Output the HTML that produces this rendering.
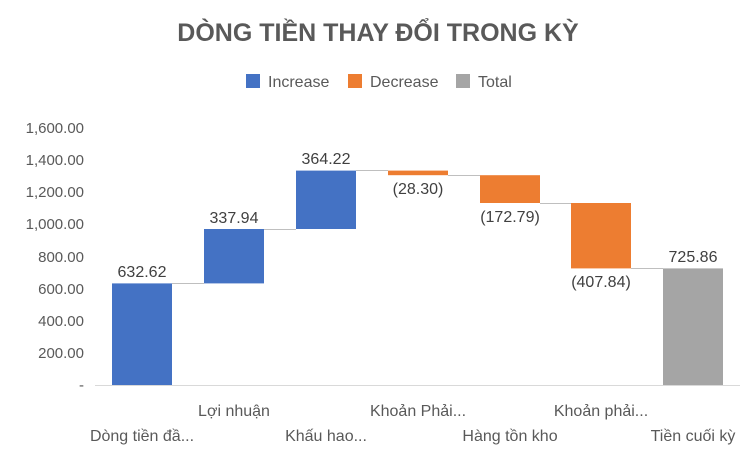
<!DOCTYPE html>
<html><head><meta charset="utf-8"><style>
body{margin:0;background:#fff}
svg{display:block;font-family:"Liberation Sans",Calibri,sans-serif}
</style></head><body>
<svg width="754" height="459" viewBox="0 0 754 459">
<rect width="754" height="459" fill="#fff"/>
<text x="378" y="41" text-anchor="middle" font-size="25" font-weight="bold" fill="#595959">DÒNG TIỀN THAY ĐỔI TRONG KỲ</text>
<rect x="246" y="74" width="14" height="14" fill="#4472C4"/><text x="268" y="87" font-size="16" fill="#595959">Increase</text>
<rect x="348" y="74" width="14" height="14" fill="#ED7D31"/><text x="370" y="87" font-size="16" fill="#595959">Decrease</text>
<rect x="456" y="74" width="14" height="14" fill="#A5A5A5"/><text x="478" y="87" font-size="16" fill="#595959">Total</text>
<g font-size="15" fill="#595959" text-anchor="end">
<text x="84" y="390">-</text><text x="84" y="358">200.00</text><text x="84" y="326">400.00</text><text x="84" y="294">600.00</text><text x="84" y="262">800.00</text><text x="84" y="229">1,000.00</text><text x="84" y="197">1,200.00</text><text x="84" y="165">1,400.00</text><text x="84" y="133">1,600.00</text>
</g>
<line x1="95" y1="385.5" x2="740" y2="385.5" stroke="#d9d9d9" stroke-width="1"/>
<g stroke="#bfbfbf" stroke-width="1">
<line x1="172" y1="283.5" x2="204" y2="283.5"/><line x1="264" y1="229.5" x2="296" y2="229.5"/><line x1="356" y1="170.5" x2="388" y2="170.5"/><line x1="448" y1="175.5" x2="480" y2="175.5"/><line x1="540" y1="203.5" x2="571" y2="203.5"/><line x1="631" y1="268.5" x2="663" y2="268.5"/>
</g>
<rect x="112" y="283.4" width="60" height="101.6" fill="#4472C4"/>
<rect x="204" y="229" width="60" height="54.4" fill="#4472C4"/>
<rect x="296" y="170.6" width="60" height="58.4" fill="#4472C4"/>
<rect x="388" y="170.6" width="60" height="4.6" fill="#ED7D31"/>
<rect x="480" y="175.2" width="60" height="27.8" fill="#ED7D31"/>
<rect x="571" y="203" width="60" height="65.4" fill="#ED7D31"/>
<rect x="663" y="268.4" width="60" height="116.6" fill="#A5A5A5"/>
<g font-size="16" fill="#404040" text-anchor="middle">
<text x="142" y="277">632.62</text><text x="234" y="223">337.94</text><text x="326" y="164">364.22</text>
<text x="418" y="194">(28.30)</text><text x="510" y="222">(172.79)</text><text x="601" y="287">(407.84)</text><text x="693" y="262">725.86</text>
</g>
<g font-size="16" fill="#595959" text-anchor="middle">
<text x="142" y="441">Dòng tiền đầ...</text><text x="234" y="416">Lợi nhuận</text><text x="326" y="441">Khấu hao...</text>
<text x="418" y="416">Khoản Phải...</text><text x="510" y="441">Hàng tồn kho</text><text x="601" y="416">Khoản phải...</text><text x="693" y="441">Tiền cuối kỳ</text>
</g>
</svg>
</body></html>
